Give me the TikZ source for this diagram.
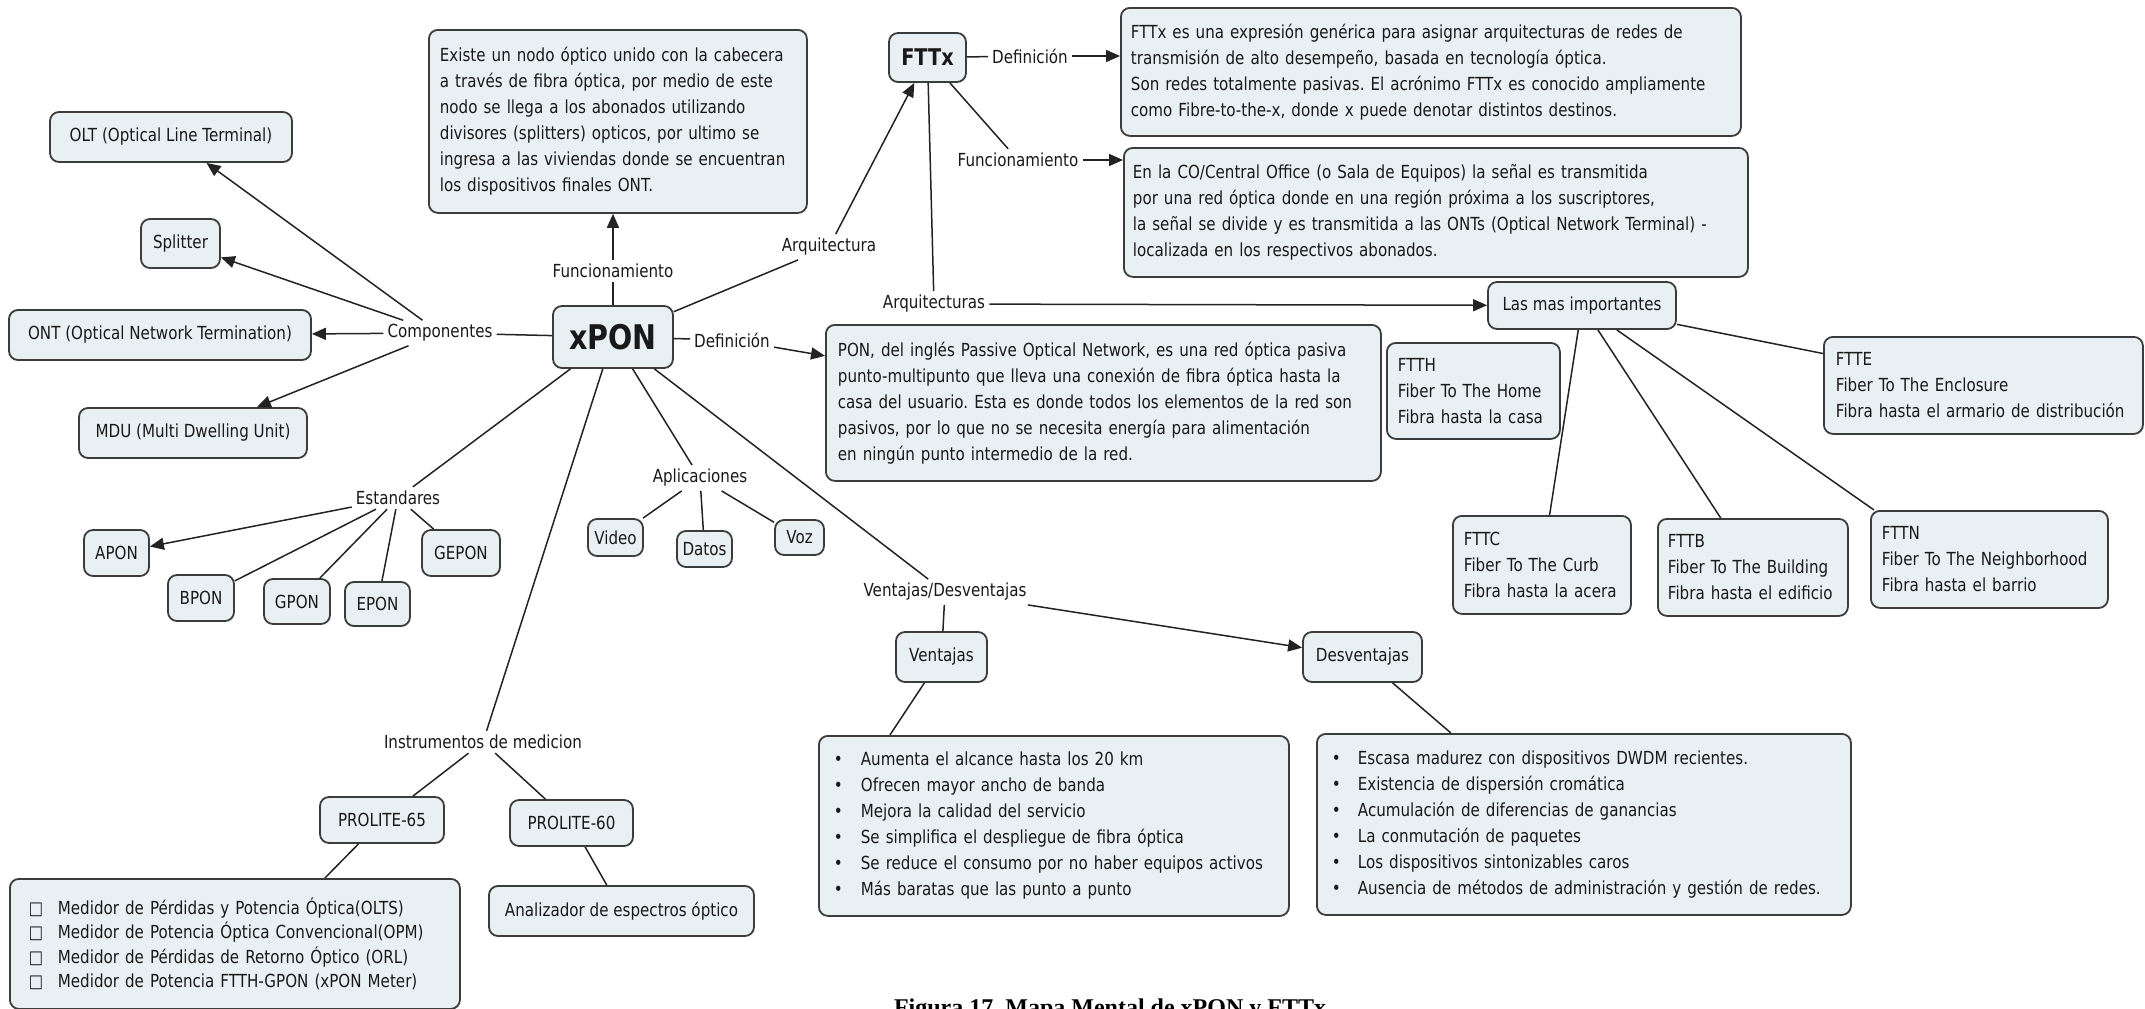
\documentclass[tikz,border=0pt]{standalone}
\usepackage{fontspec}
\setmainfont{DejaVu Sans}[FakeStretch=0.84]
\newfontfamily\capfont{Liberation Serif}
\usetikzlibrary{arrows.meta}
\definecolor{boxc}{RGB}{233,240,243}
\definecolor{bordc}{RGB}{60,60,60}
\definecolor{txtc}{RGB}{25,25,25}
\definecolor{linec}{RGB}{35,35,35}
\newcommand\myfs{\fontsize{18}{26}\selectfont}
\newcommand\bl{\makebox[27pt][l]{•}}
\newcommand\bld{\makebox[26pt][l]{•}}
\newcommand\sq{\makebox[29pt][l]{□}}
\frenchspacing
\tikzset{
  box/.style={draw=bordc, fill=boxc, rounded corners=9pt, line width=1.8pt, inner sep=0pt, text=txtc, font=\myfs},
  tbox/.style={box, anchor=north west, align=left, inner ysep=0pt},
  lbl/.style={inner sep=4pt, text=txtc, font=\myfs},
  con/.style={line width=1.5pt, draw=linec},
  arr/.style={con, -{Triangle[length=14pt,width=12pt]}},
}
\begin{document}
\begin{tikzpicture}[x=1pt,y=-1pt]
\useasboundingbox (0,0) rectangle (2145,1009);
\fill[white] (0,0) rectangle (2145,1009);

% ---- small boxes
\node[box, minimum width=242pt, minimum height=50pt] (olt) at (171,137) {OLT (Optical Line Terminal)};
\node[box, minimum width=79pt, minimum height=49pt] (split) at (180.5,243.5) {Splitter};
\node[box, minimum width=302pt, minimum height=50pt] (ont) at (160,335) {ONT (Optical Network Termination)};
\node[box, minimum width=228pt, minimum height=50pt] (mdu) at (193,433) {MDU (Multi Dwelling Unit)};
\node[box, minimum width=120pt, minimum height=62pt, font=\fontsize{34}{40}\selectfont\bfseries] (xpon) at (613,337) {xPON};
\node[box, minimum width=65pt, minimum height=46pt] (apon) at (116.5,553) {APON};
\node[box, minimum width=66pt, minimum height=46pt] (bpon) at (201,598) {BPON};
\node[box, minimum width=66pt, minimum height=45pt] (gpon) at (297,601.5) {GPON};
\node[box, minimum width=65pt, minimum height=44pt] (epon) at (377.5,604) {EPON};
\node[box, minimum width=78pt, minimum height=46pt] (gepon) at (461,553) {GEPON};
\node[box, minimum width=55pt, minimum height=37pt] (video) at (615.5,537.5) {Video};
\node[box, minimum width=55pt, minimum height=36pt] (datos) at (704.5,549) {Datos};
\node[box, minimum width=49pt, minimum height=35pt] (voz) at (799.5,537.5) {Voz};
\node[box, minimum width=77pt, minimum height=49pt, font=\fontsize{23}{28}\selectfont\bfseries] (fttx) at (927.5,57.5) {FTTx};
\node[box, minimum width=188pt, minimum height=47pt] (lmi) at (1582,305.5) {Las mas importantes};
\node[box, minimum width=91pt, minimum height=50pt] (vent) at (941.5,657) {Ventajas};
\node[box, minimum width=119pt, minimum height=50pt] (desv) at (1362.5,657) {Desventajas};
\node[box, minimum width=124pt, minimum height=46pt] (p65) at (382,820) {PROLITE-65};
\node[box, minimum width=123pt, minimum height=46pt] (p60) at (571.5,823) {PROLITE-60};
\node[box, minimum width=265pt, minimum height=50pt] (anal) at (621.5,911) {Analizador de espectros óptico};

% ---- text boxes
\node[tbox, text width=356pt, inner xsep=11pt, minimum height=183pt] (funcdesc) at (428,29)
 {Existe un nodo óptico unido con la cabecera\\
  a través de fibra óptica, por medio de este\\
  nodo se llega a los abonados utilizando\\
  divisores (splitters) opticos, por ultimo se\\
  ingresa a las viviendas donde se encuentran\\
  los dispositivos finales ONT.};
\node[tbox, text width=600pt, inner xsep=10pt, minimum height=128pt] (fttxdef) at (1120,7)
 {FTTx es una expresión genérica para asignar arquitecturas de redes de\\
  transmisión de alto desempeño, basada en tecnología óptica.\\
  Son redes totalmente pasivas. El acrónimo FTTx es conocido ampliamente\\
  como Fibre-to-the-x, donde x puede denotar distintos destinos.};
\node[tbox, text width=606pt, inner xsep=9pt, minimum height=129pt] (fttxfunc) at (1123,147)
 {En la CO/Central Office (o Sala de Equipos) la señal es transmitida\\
  por una red óptica donde en una región próxima a los suscriptores,\\
  la señal se divide y es transmitida a las ONTs (Optical Network Terminal) -\\
  localizada en los respectivos abonados.};
\node[tbox, text width=531pt, inner xsep=12pt, minimum height=156pt] (pondef) at (825,324)
 {PON, del inglés Passive Optical Network, es una red óptica pasiva\\
  punto-multipunto que lleva una conexión de fibra óptica hasta la\\
  casa del usuario. Esta es donde todos los elementos de la red son\\
  pasivos, por lo que no se necesita energía para alimentación\\
  en ningún punto intermedio de la red.};
\node[tbox, text width=151pt, inner xsep=11pt, minimum height=96pt] (ftth) at (1386,342)
 {FTTH\\Fiber To The Home\\Fibra hasta la casa};
\node[tbox, text width=295pt, inner xsep=12pt, minimum height=97pt] (ftte) at (1823,336)
 {FTTE\\Fiber To The Enclosure\\Fibra hasta el armario de distribución};
\node[tbox, text width=156pt, inner xsep=11pt, minimum height=98pt] (fttc) at (1452,515)
 {FTTC\\Fiber To The Curb\\Fibra hasta la acera};
\node[tbox, text width=170pt, inner xsep=10pt, minimum height=97pt] (fttb) at (1657,518)
 {FTTB\\Fiber To The Building\\Fibra hasta el edificio};
\node[tbox, text width=215pt, inner xsep=11pt, minimum height=97pt] (fttn) at (1870,510)
 {FTTN\\Fiber To The Neighborhood\\Fibra hasta el barrio};
\node[tbox, text width=440pt, inner xsep=15pt, minimum height=180pt] (vlist) at (818,735)
 {\bl Aumenta el alcance hasta los 20 km\\
  \bl Ofrecen mayor ancho de banda\\
  \bl Mejora la calidad del servicio\\
  \bl Se simplifica el despliegue de fibra óptica\\
  \bl Se reduce el consumo por no haber equipos activos\\
  \bl Más baratas que las punto a punto};
\node[tbox, text width=504pt, inner xsep=15pt, minimum height=181pt] (dlist) at (1316,733)
 {\bld Escasa madurez con dispositivos DWDM recientes.\\
  \bld Existencia de dispersión cromática\\
  \bld Acumulación de diferencias de ganancias\\
  \bld La conmutación de paquetes\\
  \bld Los dispositivos sintonizables caros\\
  \bld Ausencia de métodos de administración y gestión de redes.};
\node[tbox, text width=412pt, inner xsep=19pt, minimum height=130pt, font=\fontsize{18}{24.5}\selectfont] (p65list) at (9,878)
 {\sq Medidor de Pérdidas y Potencia Óptica(OLTS)\\
  \sq Medidor de Potencia Óptica Convencional(OPM)\\
  \sq Medidor de Pérdidas de Retorno Óptico (ORL)\\
  \sq Medidor de Potencia FTTH-GPON (xPON Meter)};

% ---- labels
\node[lbl] (comp) at (440,333) {Componentes};
\node[lbl] (funclbl) at (613,271) {Funcionamiento};
\node[lbl] (arqlbl) at (829,247) {Arquitectura};
\node[lbl] (xdef) at (732,340) {Definición};
\node[lbl] (fttxdeflbl) at (1030,56) {Definición};
\node[lbl] (fttxfunclbl) at (1018,160) {Funcionamiento};
\node[lbl] (arqs) at (934,304) {Arquitecturas};
\node[lbl] (est) at (398,498) {Estandares};
\node[lbl] (apl) at (700,478) {Aplicaciones};
\node[lbl] (vd) at (945,592) {Ventajas/Desventajas};
\node[lbl] (instr) at (483,742) {Instrumentos de medicion};

% ---- caption (cut by the lower edge)
\node[anchor=base, inner sep=0pt, font=\capfont\bfseries\fontsize{24}{28}\selectfont] (cap) at (1110,1015) {Figura 17. Mapa Mental de xPON y FTTx};

% ---- connectors
\draw[arr] (comp) -- (olt);
\draw[arr] (comp) -- (split);
\draw[arr] (comp) -- (ont);
\draw[arr] (comp) -- (mdu);
\draw[con] (xpon) -- (comp);
\draw[con] (xpon) -- (funclbl);
\draw[arr] (funclbl) -- (funcdesc.south -| funclbl);
\draw[con] (xpon) -- (arqlbl);
\draw[arr] (arqlbl) -- (fttx);
\draw[con] (fttx) -- (fttxdeflbl);
\draw[arr] (fttxdeflbl) -- (fttxdef.west |- fttxdeflbl);
\draw[con] (fttx) -- (fttxfunclbl);
\draw[arr] (fttxfunclbl) -- (fttxfunc.west |- fttxfunclbl);
\draw[con] (fttx) -- (arqs);
\draw[arr] (arqs) -- (lmi);
\draw[con] (lmi) -- (fttc);
\draw[con] (lmi) -- (fttb);
\draw[con] (lmi) -- ([xshift=4pt]fttn.north west);
\draw[con] (lmi) -- (ftte);
\draw[con] (xpon) -- (xdef);
\draw[arr] (xdef) -- (pondef);
\draw[con] (xpon) -- (est);
\draw[arr] (est) -- (apon);
\draw[con] (est) -- (bpon);
\draw[con] (est) -- (gpon);
\draw[con] (est) -- (epon);
\draw[con] (est) -- (gepon);
\draw[con] (xpon) -- (apl);
\draw[con] (apl) -- (video);
\draw[con] (apl) -- (datos);
\draw[con] (apl) -- (voz);
\draw[con] (xpon) -- (vd);
\draw[con] (vd) -- (vent);
\draw[arr] (vd) -- (desv);
\draw[con] (vent) -- ([xshift=-164pt]vlist.north);
\draw[con] (desv) -- ([xshift=-133pt]dlist.north);
\draw[con] (xpon) -- (instr);
\draw[con] (instr) -- (p65);
\draw[con] (instr) -- (p60);
\draw[con] (p65) -- ([xshift=90pt]p65list.north);
\draw[con] (p60) -- (anal);
\end{tikzpicture}
\end{document}
